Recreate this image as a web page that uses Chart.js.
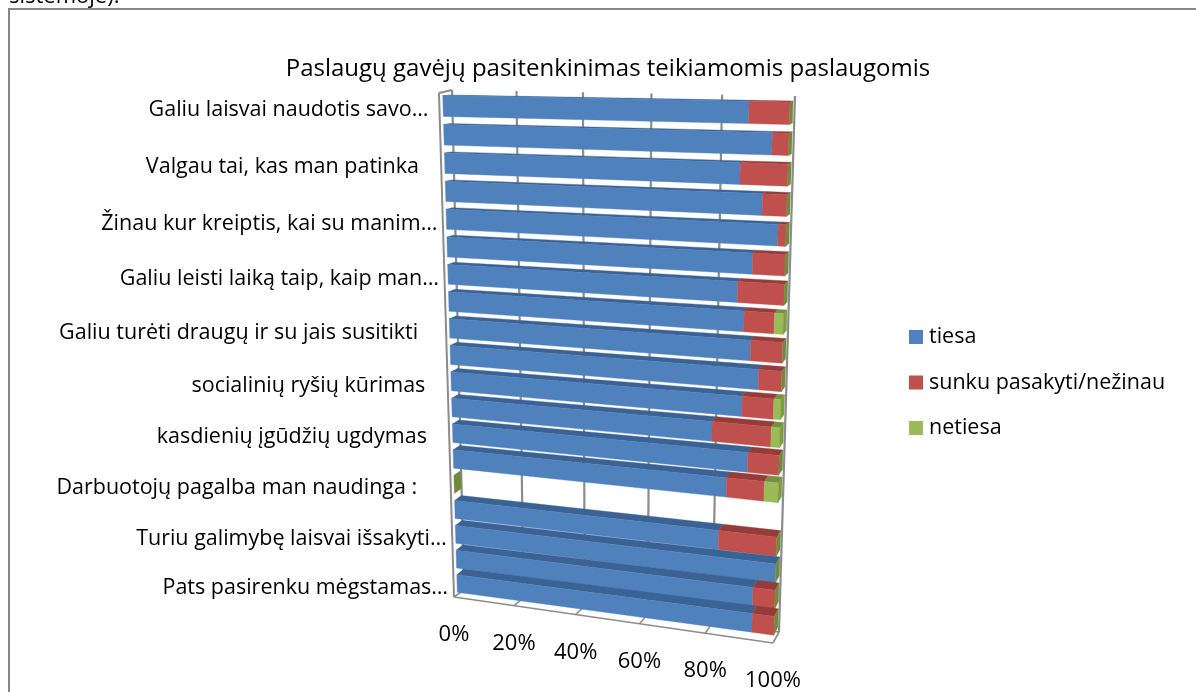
<!DOCTYPE html>
<html><head><meta charset="utf-8">
<style>html,body{margin:0;padding:0;background:#fff;overflow:hidden}canvas{display:block}</style>
<script src="https://cdn.jsdelivr.net/npm/chart.js@4"></script>
</head><body>
<div style="width:1196px;height:692px"><canvas id="c" width="1196" height="692"></canvas></div>
<script>
const categories = ["Galiu laisvai naudotis savo… ","","Valgau tai, kas man patinka   ","","Žinau kur kreiptis, kai su manim…","","Galiu leisti laiką taip, kaip man…","","Galiu turėti draugų ir su jais susitikti    ","","socialinių ryšių kūrimas   ","","kasdienių įgūdžių ugdymas   ","","Darbuotojų pagalba man naudinga :     ","","Turiu galimybę laisvai išsakyti…","","Pats pasirenku mėgstamas…"];
const tiesa   = [89,95.5,87,93.3,97.8,91,87,89,91,93.5,89,80.5,91,85,0,83,100,93.5,93.5];
const sunku   = [11,4.5,13,6.7,2.2,9,13,8.5,9,6.5,9,17,9,11,0,17,0,6.5,6.5];
const netiesa = [0,0,0,0,0,0,0,2.5,0,0,2,2.5,0,4,0,0,0,0,0];
const seriesNames = ["tiesa","sunku pasakyti/nežinau","netiesa"];
const FONT = "'Open Sans'";
const faceColors = ["#4F81BD","#C0504D","#9BBB59"];
const topColors  = ["#3A6294","#943C3A","#76903F"];
const sideColor  = "#6F8A3A";

function homography(q){
  const [x0,y0]=q[0],[x1,y1]=q[1],[x2,y2]=q[2],[x3,y3]=q[3];
  const sx=x0-x1+x2-x3, sy=y0-y1+y2-y3, dx1=x1-x2, dx2=x3-x2, dy1=y1-y2, dy2=y3-y2;
  const det=dx1*dy2-dx2*dy1, g=(sx*dy2-dx2*sy)/det, h=(dx1*sy-sx*dy1)/det;
  const a=x1-x0+g*x1,b=x3-x0+h*x3,d=y1-y0+g*y1,e=y3-y0+h*y3;
  return (u,v)=>{const w=g*u+h*v+1;return [(a*u+b*v+x0)/w,(d*u+e*v+y0)/w];};
}
// perspective planes: [top-left, top-right, bottom-right, bottom-left]
const barFront = homography([[442.6,91.5],[790.2,97.7],[773.7,638.8],[457.4,595.7]]);
const barBack  = homography([[448.6,91],[793.2,96.7],[777.7,630.8],[464.4,589.7]]);
const wallBack = homography([[452,90],[795,96],[779,632],[464,590]]);
const floorFront = homography([[439,93],[792,99],[773,643],[454,597]]);

function poly(ctx,pts,fill){
  ctx.beginPath();pts.forEach((p,i)=>i?ctx.lineTo(p[0],p[1]):ctx.moveTo(p[0],p[1]));ctx.closePath();
  ctx.fillStyle=fill;ctx.strokeStyle=fill;ctx.lineWidth=.4;ctx.fill();ctx.stroke();
}
function seg(ctx,a,b,w){ctx.beginPath();ctx.moveTo(a[0],a[1]);ctx.lineTo(b[0],b[1]);ctx.lineWidth=w;ctx.strokeStyle="#8C8C8C";ctx.stroke();}

const perspective = {
  id:'perspective',
  beforeDraw(chart){
    const ctx=chart.ctx;
    ctx.save();
    ctx.fillStyle="#fff";ctx.fillRect(0,0,1196,692);
    ctx.strokeStyle="#868686";ctx.lineWidth=2;ctx.strokeRect(9,9,1400,900);
    ctx.fillStyle="#000";ctx.font="22px "+FONT;ctx.textAlign="left";ctx.textBaseline="alphabetic";
    ctx.fillText("sistemoje).",9,3);
    ctx.font="24px "+FONT;ctx.textAlign="center";ctx.textBaseline="middle";
    ctx.fillText("Paslaugų gavėjų pasitenkinimas teikiamomis paslaugomis",608,69);
    ctx.restore();
  },
  beforeDatasetsDraw(chart){
    const ctx=chart.ctx,A=chart.chartArea,xS=chart.scales.x,yS=chart.scales.y;
    const U=x=>(x-A.left)/(A.right-A.left),V=y=>(y-A.top)/(A.bottom-A.top);
    ctx.save();
    // walls & floor
    seg(ctx,floorFront(0,0),wallBack(0,0),2);
    seg(ctx,floorFront(0,0),floorFront(0,1),2);
    seg(ctx,floorFront(0,1),wallBack(0,1),1.5);
    seg(ctx,floorFront(0,1),floorFront(1,1),1.5);
    seg(ctx,floorFront(1,1),wallBack(1,1),1.5);
    seg(ctx,wallBack(0,1),wallBack(1,1),1.5);
    xS.ticks.forEach(t=>{
      const u=U(xS.getPixelForValue(t.value));
      seg(ctx,wallBack(u,0),wallBack(u,1),2.2);
      seg(ctx,wallBack(u,1),floorFront(u,1),1.5);
    });
    // bars
    const metas=chart.data.datasets.map((d,i)=>chart.getDatasetMeta(i));
    categories.forEach((c,r)=>{
      metas.forEach((m,k)=>{
        const el=m.data[r],u0=U(el.base),u1=U(el.x),v0=V(el.y-el.height/2),v1=V(el.y+el.height/2);
        if(u1>u0){
          poly(ctx,[barFront(u0,v0),barFront(u1,v0),barBack(u1,v0),barBack(u0,v0)],topColors[k]);
          poly(ctx,[barFront(u0,v0),barFront(u1,v0),barFront(u1,v1),barFront(u0,v1)],faceColors[k]);
        }
        if(k===metas.length-1){
          poly(ctx,[barFront(u1,v0),barBack(u1,v0),barBack(u1,v1),barFront(u1,v1)],u1>u0&&netiesa[r]>0?"#7F9C45":sideColor);
        }
      });
    });
    // category labels
    ctx.fillStyle="#000";ctx.font="21.5px "+FONT;ctx.textAlign="right";ctx.textBaseline="middle";
    categories.forEach((c,r)=>{
      if(!c)return;
      const p=barFront(0,V(yS.getPixelForValue(r)));
      ctx.fillText(c,p[0]-9,p[1]+4);
    });
    // value labels
    ctx.font="22px "+FONT;ctx.textAlign="center";
    xS.ticks.forEach(t=>{
      const p=floorFront(U(xS.getPixelForValue(t.value)),1);
      ctx.fillText(t.value+"%",p[0],p[1]+38);
    });
    // legend
    ctx.font="21.5px "+FONT;ctx.textAlign="left";
    chart.data.datasets.forEach((d,i)=>{
      const y=337+45.5*i;
      ctx.fillStyle=d.backgroundColor;ctx.fillRect(909,y-7,14,14);
      ctx.fillStyle="#000";ctx.fillText(d.label,929,y);
    });
    ctx.restore();
    return false;
  }
};

new Chart(document.getElementById('c'),{
  type:'bar',
  data:{labels:categories,datasets:[
    {label:seriesNames[0],data:tiesa,backgroundColor:faceColors[0]},
    {label:seriesNames[1],data:sunku,backgroundColor:faceColors[1]},
    {label:seriesNames[2],data:netiesa,backgroundColor:faceColors[2]}
  ]},
  options:{
    indexAxis:'y',responsive:false,animation:false,
    barPercentage:0.72,categoryPercentage:1,
    layout:{padding:{left:443,top:92,right:403,bottom:53}},
    scales:{
      x:{stacked:true,min:0,max:100,ticks:{stepSize:20,display:false},grid:{display:false},border:{display:false}},
      y:{stacked:true,ticks:{display:false,autoSkip:false},grid:{display:false},border:{display:false}}
    },
    plugins:{tooltip:{enabled:false},legend:{display:false}}
  },
  plugins:[perspective]
});
</script>
</body></html>
